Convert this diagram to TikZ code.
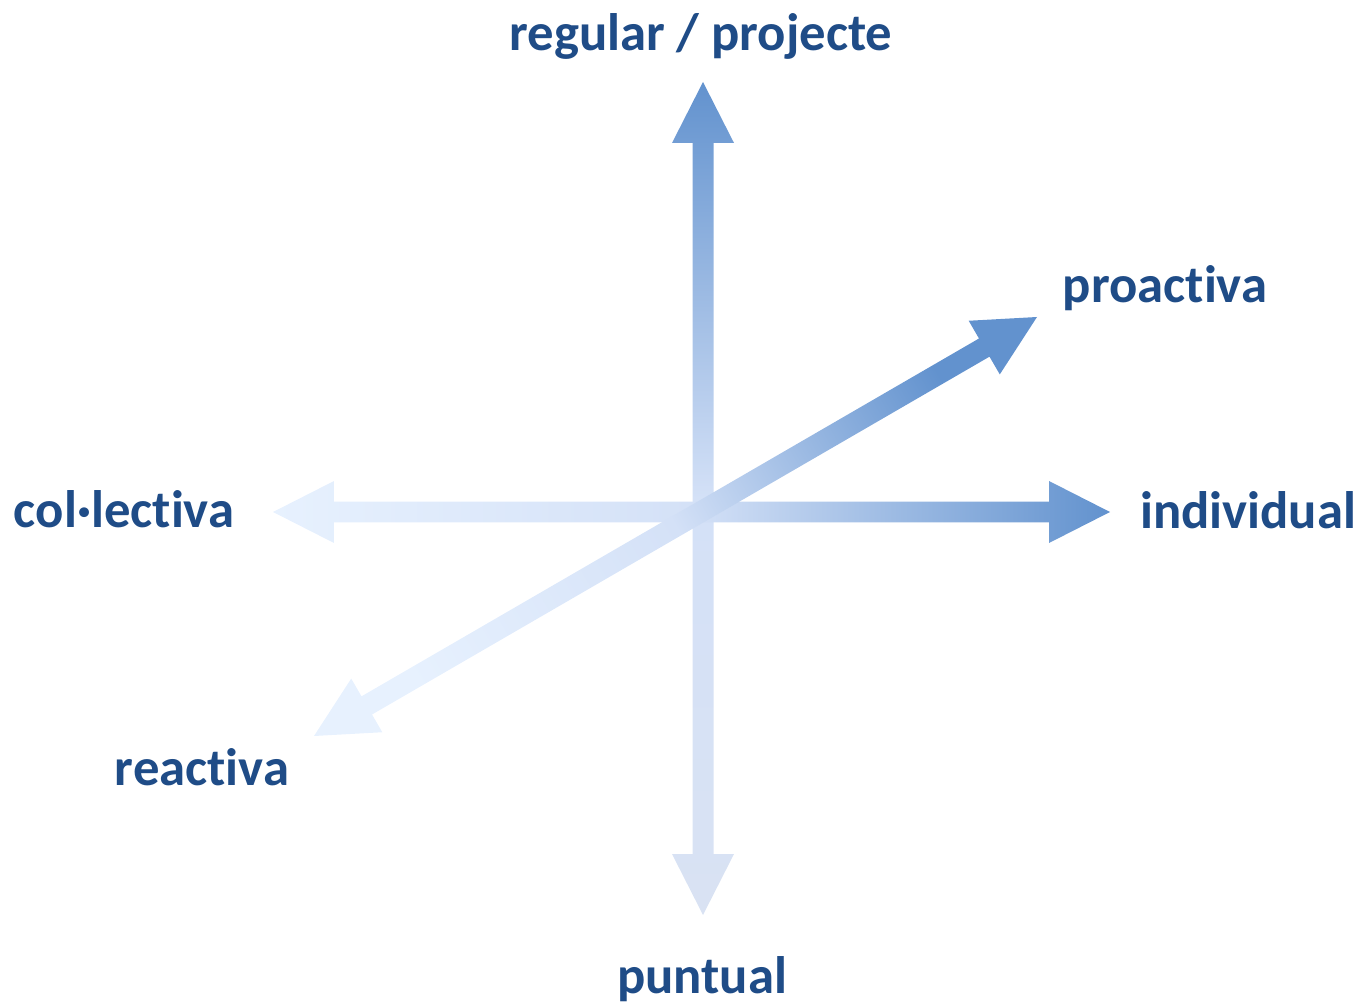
\documentclass[tikz,border=0pt]{standalone}
\usepackage{fontspec}
\setmainfont{Carlito}[Ligatures=NoCommon]
\usetikzlibrary{calc}

\definecolor{labelblue}{RGB}{31,76,135}
\definecolor{axisdark}{RGB}{98,146,206}
\definecolor{axismid}{RGB}{212,225,247}
\definecolor{axispale}{RGB}{231,241,254}
\definecolor{axisgrey}{RGB}{217,226,243}

% double headed fat arrow between two tips: #1 style, #2 tip, #3 tip
\newcommand{\fatarrow}[3]{%
  \path coordinate (p1) at ($(#2)!1.22cm!(#3)$)
        coordinate (p2) at ($(#3)!1.22cm!(#2)$);
  \shade[#1] (#2) -- ($(p1)!0.62cm!-90:(#3)$) -- ($(p1)!0.21cm!-90:(#3)$)
    -- ($(p2)!0.21cm!90:(#2)$) -- ($(p2)!0.62cm!90:(#2)$) -- (#3)
    -- ($(p2)!0.62cm!-90:(#2)$) -- ($(p2)!0.21cm!-90:(#2)$)
    -- ($(p1)!0.21cm!90:(#3)$) -- ($(p1)!0.62cm!90:(#3)$) -- cycle;
}

\begin{document}
\begin{tikzpicture}[
    x=0.02cm, y=0.02cm,
    font=\fontsize{30}{36}\selectfont\bfseries,
    every node/.style={inner sep=0pt, text=labelblue},
    axislabel/.style={anchor=base},
    vaxis/.style={top color=axisdark, bottom color=axisgrey, middle color=axismid},
    haxis/.style={left color=axispale, right color=axisdark, middle color=axismid},
    daxis/.style={top color=axisdark, bottom color=axispale, middle color=axismid, shading angle=-60}
]
\useasboundingbox (0,0) rectangle (1362,1005);

% tips of the three axes
\coordinate (top) at (703,923);
\coordinate (bottom) at (703,90);
\coordinate (left) at (273,493);
\coordinate (right) at (1110,493);
\coordinate (upright) at (1037,688);
\coordinate (downleft) at (314,269);

% axes
\fatarrow{vaxis}{bottom}{top}
\fatarrow{haxis}{left}{right}
\fatarrow{daxis}{downleft}{upright}

% labels
\node[axislabel] (regular) at (701,954) {regular / projecte};
\node[axislabel] (puntual) at (702,12) {puntual};
\node[axislabel] (individual) at (1248,477) {individual};
\node[axislabel] (collectiva) at (124,478) {col·lectiva};
\node[axislabel] (proactiva) at (1165,702) {proactiva};
\node[axislabel] (reactiva) at (202,220) {reactiva};

\end{tikzpicture}
\end{document}
